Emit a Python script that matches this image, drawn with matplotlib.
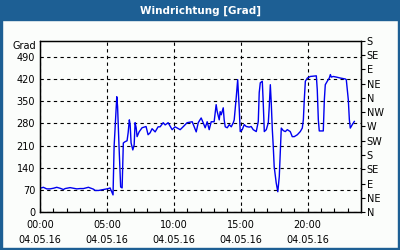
import matplotlib
matplotlib.use("Agg")
import matplotlib.pyplot as plt
from matplotlib.patches import Rectangle

# ---- data ----
hours = [0.0, 0.25, 0.5, 0.75, 1.0, 1.25, 1.5, 1.75, 1.88, 2.25,
         2.5, 2.75, 3.0, 3.25, 3.62, 3.88, 4.0, 4.12, 4.38, 4.62,
         4.88, 5.12, 5.24, 5.46, 5.54, 5.74, 5.80, 5.91, 6.03, 6.14,
         6.23, 6.36, 6.51, 6.59, 6.68, 6.74, 6.81, 6.94, 7.04, 7.11,
         7.19, 7.26, 7.41, 7.63, 7.93, 8.08, 8.23, 8.38, 8.61, 8.83,
         8.98, 9.21, 9.36, 9.58, 9.88, 10.10, 10.48, 10.70, 11.0, 11.38,
         11.68, 11.83, 12.05, 12.20, 12.35, 12.50, 12.65, 12.80, 13.02, 13.17,
         13.25, 13.40, 13.47, 13.55, 13.70, 13.77, 13.85, 14.0, 14.15, 14.30,
         14.45, 14.52, 14.67, 14.78, 14.90, 14.97, 15.12, 15.27, 15.42, 15.64,
         15.79, 15.94, 16.17, 16.32, 16.39, 16.47, 16.62, 16.69, 16.77, 16.92,
         17.07, 17.14, 17.22, 17.29, 17.37, 17.44, 17.51, 17.66, 17.78, 17.89,
         17.96, 18.04, 18.19, 18.34, 18.49, 18.71, 18.86, 19.01, 19.24, 19.46,
         19.61, 19.69, 19.76, 19.84, 19.99, 20.21, 20.66, 20.73, 20.81, 20.88,
         21.18, 21.26, 21.33, 21.48, 21.63, 21.71, 21.78, 21.93, 22.16, 22.46,
         22.83, 22.90, 22.98, 23.05, 23.13, 23.20, 23.35, 23.50]
direction = [75, 78, 73, 73, 75, 78, 75, 71, 74, 77,
             75, 73, 74, 74, 78, 74, 72, 68, 68, 70,
             72, 74, 76, 54, 206, 364, 333, 206, 79, 76,
             218, 222, 225, 250, 291, 276, 218, 196, 212, 282,
             266, 238, 253, 266, 270, 244, 250, 263, 253, 269,
             269, 282, 275, 282, 260, 269, 260, 269, 282, 285,
             253, 282, 297, 282, 266, 285, 260, 285, 285, 339,
             317, 291, 317, 307, 329, 291, 269, 266, 276, 269,
             282, 291, 361, 418, 323, 254, 260, 276, 270, 268,
             270, 260, 254, 286, 377, 408, 413, 345, 254, 260,
             282, 333, 402, 345, 260, 207, 143, 92, 64, 112,
             187, 265, 257, 254, 260, 254, 238, 238, 244, 254,
             265, 291, 355, 413, 423, 428, 430, 386, 291, 256,
             256, 355, 402, 413, 423, 434, 426, 428, 426, 423,
             420, 418, 386, 355, 291, 265, 276, 286]
x_ticks = [0, 5, 10, 15, 20]
x_labels = ["00:00\n04.05.16", "05:00\n04.05.16", "10:00\n04.05.16",
            "15:00\n04.05.16", "20:00\n04.05.16"]
left_ticks = [0, 70, 140, 210, 280, 350, 420, 490]
compass = ["N", "NE", "E", "SE", "S", "SW", "W", "NW",
           "N", "NE", "E", "SE", "S"]
compass_deg = [i * 45 for i in range(len(compass))]

BG = "#fbfdfb"
BLUE_BAR = "#1d5f94"
FS = 7

fig = plt.figure(figsize=(4, 2.5), dpi=100, facecolor=BG)
W, H = 400, 250
# title bar and border
fig.patches.append(Rectangle((0, 1 - 20 / H), 1, 20 / H, transform=fig.transFigure,
                             color=BLUE_BAR, zorder=0))
fig.patches.append(Rectangle((0, 0), 2 / W, 1, transform=fig.transFigure, color=BLUE_BAR, zorder=0))
fig.patches.append(Rectangle((1 - 2 / W, 0), 2 / W, 1, transform=fig.transFigure, color=BLUE_BAR, zorder=0))
fig.patches.append(Rectangle((0, 0), 1, 2 / H, transform=fig.transFigure, color=BLUE_BAR, zorder=0))
fig.text(0.5, 1 - 10.5 / H, "Windrichtung [Grad]", color="white", fontweight="bold",
         ha="center", va="center", fontsize=7.5)

ax = fig.add_axes([40 / W, 38 / H, 321 / W, 171 / H])
ax.set_facecolor(BG)
ax.plot(hours, direction, color="#0000f0", lw=1.0, zorder=3)
ax.set_xlim(0, 24)
ax.set_ylim(0, 540)

ax.set_yticks(left_ticks)
ax.set_yticklabels([str(v) for v in left_ticks], fontsize=FS)
ax.tick_params(axis="y", length=0, pad=3.5)

ax.set_xticks(x_ticks)
ax.set_xticklabels(x_labels, fontsize=FS, linespacing=1.6)
ax.set_xticks(range(0, 24), minor=True)
ax.tick_params(axis="x", which="both", direction="in", length=3, width=0.8, pad=6)

ax.grid(True, which="major", linestyle=(0, (3, 3)), color="black", lw=0.8)
for s in ax.spines.values():
    s.set_linewidth(0.9)

ax2 = ax.twinx()
ax2.set_ylim(0, 540)
ax2.set_yticks(compass_deg)
ax2.set_yticklabels(compass, fontsize=FS)
ax2.tick_params(axis="y", direction="out", length=3, width=0.8, pad=1)
for s in ax2.spines.values():
    s.set_linewidth(0.9)

fig.text(36 / W, 1 - 46 / H, "Grad", fontsize=FS, ha="right", va="center")

fig.savefig("out.png", dpi=100, facecolor=BG)
